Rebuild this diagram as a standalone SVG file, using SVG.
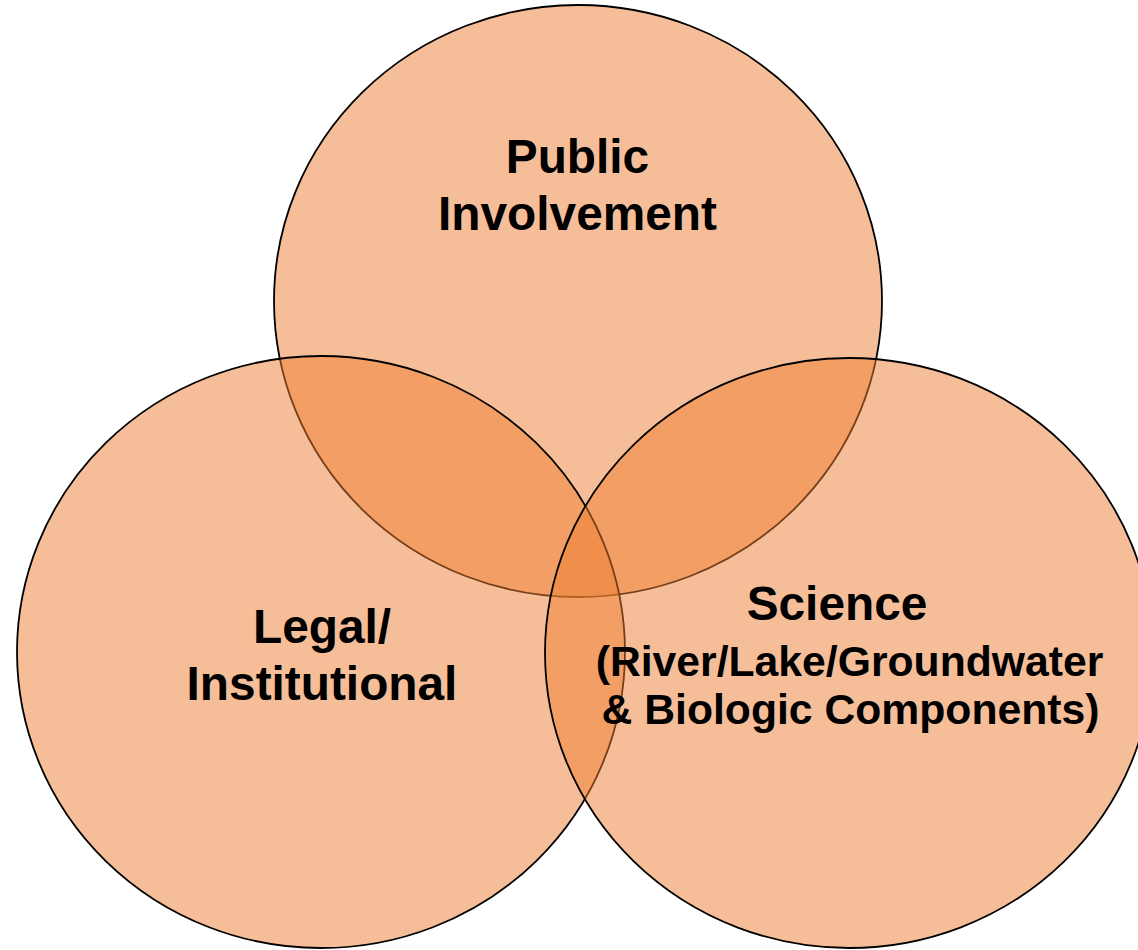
<svg xmlns="http://www.w3.org/2000/svg" width="1138" height="950" viewBox="0 0 1138 950">
  <style>
    .c { fill: #ED7D31; fill-opacity: 0.5; stroke: #000; stroke-width: 1.8; }
    .t { font-family: "Liberation Sans", Arial, sans-serif; font-weight: bold; fill: #000; text-anchor: middle; }
    .big { font-size: 47.8px; }
    .small { font-size: 42.7px; }
  </style>
  <rect width="1138" height="950" fill="#fff"/>
  <g id="public">
    <ellipse class="c" cx="578" cy="301" rx="304" ry="296"/>
    <text class="t big" x="577.5" y="173">Public</text>
    <text class="t big" x="577.5" y="230">Involvement</text>
  </g>
  <g id="legal">
    <ellipse class="c" cx="321" cy="652" rx="304" ry="296"/>
    <text class="t big" x="322" y="643">Legal/</text>
    <text class="t big" x="322" y="700">Institutional</text>
  </g>
  <g id="science">
    <ellipse class="c" cx="849" cy="653" rx="304" ry="295"/>
    <text class="t big" x="837" y="620">Science</text>
    <text class="t small" x="849.5" y="676">(River/Lake/Groundwater</text>
    <text class="t small" x="850.5" y="724">&amp; Biologic Components)</text>
  </g>
  <g id="connectors"/>
</svg>
